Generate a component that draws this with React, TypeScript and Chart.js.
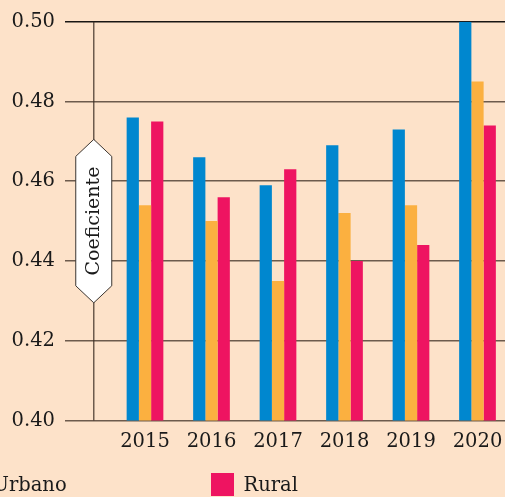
import { useEffect, useRef } from 'react';
import { Chart, registerables } from 'chart.js';

Chart.register(...registerables);

const years = ['2015', '2016', '2017', '2018', '2019', '2020'];
const nacional = [0.476, 0.466, 0.459, 0.469, 0.473, 0.5];
const urbano = [0.454, 0.45, 0.435, 0.452, 0.454, 0.485];
const rural = [0.475, 0.456, 0.463, 0.44, 0.444, 0.474];
const seriesNames = ['Nacional', 'Urbano', 'Rural'];
const seriesColors = ['#0087cf', '#fbb040', '#ee1461'];
const yMin = 0.4;
const yMax = 0.5;
const yStep = 0.02;
const axisTitle = 'Coeficiente';

const BG = '#fde2c9';
const TEXT = '#1a1a1a';
const GRID = 'rgba(60,45,35,0.75)';
const GRID_TOP = 'rgba(0,0,0,0.9)';
const FONT = '"DejaVu Serif", serif';

const hexPlugin = {
  id: 'hexLabel',
  afterDraw(chart: any) {
    const { ctx, chartArea } = chart;
    const x = chartArea.left - 18;
    const cy = (chartArea.top + chartArea.bottom) / 2;
    ctx.save();
    ctx.strokeStyle = GRID;
    ctx.lineWidth = 1.5;
    ctx.beginPath();
    ctx.moveTo(x, chartArea.top);
    ctx.lineTo(x, chartArea.bottom);
    ctx.stroke();
    const hh = 81.7;
    const hw = 18;
    const pd = 17;
    ctx.beginPath();
    ctx.moveTo(x, cy - hh);
    ctx.lineTo(x + hw, cy - hh + pd);
    ctx.lineTo(x + hw, cy + hh - pd);
    ctx.lineTo(x, cy + hh);
    ctx.lineTo(x - hw, cy + hh - pd);
    ctx.lineTo(x - hw, cy - hh + pd);
    ctx.closePath();
    ctx.fillStyle = '#ffffff';
    ctx.fill();
    ctx.strokeStyle = '#3a3430';
    ctx.lineWidth = 1;
    ctx.stroke();
    ctx.translate(x, cy);
    ctx.rotate(-Math.PI / 2);
    ctx.font = `19px ${FONT}`;
    ctx.textAlign = 'center';
    ctx.textBaseline = 'middle';
    ctx.fillStyle = TEXT;
    ctx.fillText(axisTitle, 0, 0);
    ctx.restore();
  },
};

const legendLefts = [-291, -40, 211];

export default function App() {
  const ref = useRef<HTMLCanvasElement>(null);

  useEffect(() => {
    if (!ref.current) return;
    const values = [nacional, urbano, rural];
    const chart = new Chart(ref.current, {
      type: 'bar',
      data: {
        labels: years,
        datasets: values.map((d, i) => ({
          label: seriesNames[i],
          data: d,
          backgroundColor: seriesColors[i],
          borderWidth: 0,
          categoryPercentage: 0.552,
          barPercentage: 1,
        })),
      },
      options: {
        animation: false,
        responsive: false,
        devicePixelRatio: 1,
        layout: { padding: { left: 0, right: 9.25, top: 19.3, bottom: 36.5 } },
        plugins: { legend: { display: false }, tooltip: { enabled: false } },
        scales: {
          x: {
            grid: { display: false, drawTicks: false },
            border: { display: false },
            ticks: { font: { family: FONT, size: 19.5 }, color: TEXT, padding: 10, maxRotation: 0 },
            afterFit: (s: any) => {
              s.height = 40;
            },
          },
          y: {
            min: yMin,
            max: yMax,
            z: 1,
            border: { display: false },
            ticks: {
              stepSize: yStep,
              callback: (v: any) => Number(v).toFixed(2),
              font: { family: FONT, size: 19.5 },
              color: TEXT,
              padding: 10,
            },
            grid: {
              color: (c: any) => (Math.abs(c.tick.value - yMax) < 1e-6 ? GRID_TOP : GRID),
              lineWidth: 1.5,
              tickLength: 46.75,
            },
            afterFit: (s: any) => {
              s.width = 111.75;
            },
          },
        },
      },
      plugins: [hexPlugin],
    });
    return () => chart.destroy();
  }, []);

  return (
    <div
      style={{
        position: 'absolute',
        left: 0,
        top: 0,
        width: 505,
        height: 497,
        overflow: 'hidden',
        background: BG,
      }}
    >
      <canvas ref={ref} width={520} height={497} style={{ display: 'block', width: 520, height: 497 }} />
      {seriesNames.map((n, i) => (
        <div
          key={n}
          style={{
            position: 'absolute',
            left: legendLefts[i],
            top: 472.7,
            display: 'flex',
            alignItems: 'flex-start',
            whiteSpace: 'nowrap',
          }}
        >
          <div style={{ width: 22.5, height: 23, background: seriesColors[i] }} />
          <div
            style={{
              marginLeft: 10,
              fontFamily: FONT,
              fontSize: 19.5,
              lineHeight: '19.5px',
              color: TEXT,
              marginTop: 2.5,
            }}
          >
            {n}
          </div>
        </div>
      ))}
    </div>
  );
}
